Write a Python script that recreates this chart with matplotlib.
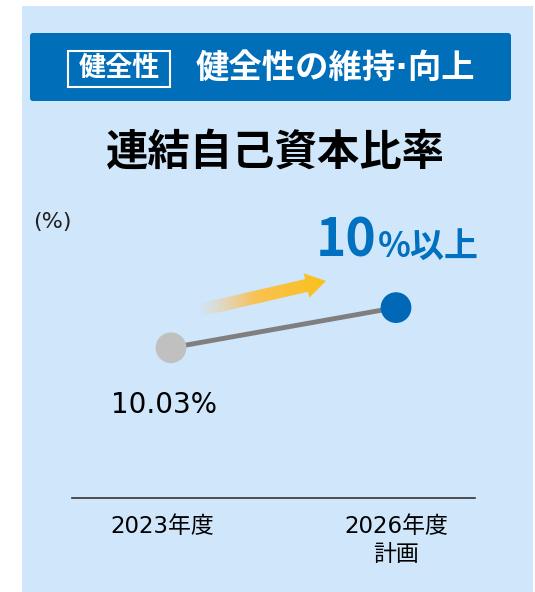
import numpy as np
from matplotlib import pyplot as plt
from matplotlib.patches import Rectangle, FancyBboxPatch, Polygon
from matplotlib.transforms import ScaledTranslation

# DejaVu for latin digits (wide, Meiryo-like), Noto CJK for kanji
plt.rcParams['font.family'] = ['DejaVu Sans', 'Noto Sans CJK JP']
CJK = ['Noto Sans CJK JP', 'DejaVu Sans']

# Data
categories = ["2023年度", "2026年度\n計画"]
ratio_values = [10.03, 11.0]      # 2026 plan is a target ("10%以上"), drawn above 2023
point_colors = ["#C0C0C0", "#0068B7"]
value_label = "10.03%"

W, H = 535, 592
fig = plt.figure(figsize=(W / 100, H / 100), dpi=100)

# Decoration layer in pixel coordinates (y down)
bg = fig.add_axes([0, 0, 1, 1])
bg.set_xlim(0, W)
bg.set_ylim(H, 0)
bg.axis('off')

bg.add_patch(Rectangle((22, 6), 511, 586, facecolor="#D0E6FA", edgecolor="none"))
bg.add_patch(FancyBboxPatch((30, 33), 481, 68, boxstyle="round,pad=0,rounding_size=3",
                            facecolor="#006EB9", edgecolor="none"))
bg.add_patch(Rectangle((68, 51), 102, 36, facecolor="none", edgecolor="white", linewidth=1.5))
bg.text(119, 69, "健全性", color="white", fontsize=19.5, fontweight="bold",
        ha="center", va="center")
bg.text(335, 68, "健全性の維持·向上", color="white", fontsize=24, fontweight="bold",
        ha="center", va="center")

bg.text(275, 153, "連結自己資本比率", color="black", fontsize=30.5, fontweight="bold",
        ha="center", va="center")

bg.text(33, 222, "(%)", color="#222222", fontsize=16, ha="left", va="center")

bg.text(377, 241, "10", color="#0070C0", fontsize=37, fontweight="bold",
        ha="right", va="center", family=CJK)
bg.text(378, 246, "%以上", color="#0070C0", fontsize=24.5, fontweight="bold",
        ha="left", va="center", family=CJK)

# Gradient arrow
tail = np.array([200.0, 310.0])
tip = np.array([326.0, 281.0])
d = tip - tail
L = np.hypot(*d)
u = d / L
n = np.array([u[1], -u[0]])
hw, hh, hl = 6.5, 12.5, 20.0
base = tip - u * hl
pts = [tail + n * hw, base + n * hw, base + n * hh, tip,
       base - n * hh, base - n * hw, tail - n * hw]
arrow = Polygon(pts, closed=True, facecolor="none", edgecolor="none")
bg.add_patch(arrow)
xs = np.array([p[0] for p in pts])
ys = np.array([p[1] for p in pts])
x0, x1 = xs.min(), xs.max()
grad = np.zeros((2, 256, 4))
t = np.linspace(0, 1, 256)
grad[..., 0] = 0.98
grad[..., 1] = 0.76
grad[..., 2] = 0.10 + 0.4 * (1 - t)
grad[..., 3] = np.clip(t / 0.45, 0, 1)
im = bg.imshow(grad, extent=(x0, x1, ys.max(), ys.min()), aspect="auto",
               interpolation="bilinear", zorder=3)
im.set_clip_path(arrow)
bg.set_xlim(0, W)
bg.set_ylim(H, 0)

# Chart layer
ax = fig.add_axes([72 / W, (H - 498) / H, 403 / W, 298 / H])
ax.patch.set_alpha(0)
x = np.arange(len(categories))
ax.plot(x, ratio_values, color="#7F7F7F", linewidth=3.5, zorder=2)
ax.scatter(x, ratio_values, s=490, c=point_colors, zorder=3, linewidths=0)
ax.set_xlim(-0.44, 1.351)
ax.set_ylim(6.4, 13.6)
ax.annotate(value_label, (x[0], ratio_values[0]), xytext=(-5, -41),
            textcoords="offset points", ha="center", va="center", fontsize=20)

for s in ["top", "right", "left"]:
    ax.spines[s].set_visible(False)
ax.spines["bottom"].set_color("#333333")
ax.spines["bottom"].set_linewidth(1.2)
ax.set_yticks([])
ax.set_xticks(x)
ax.set_xticklabels(categories, fontsize=16.5, linespacing=1.3)
ax.tick_params(axis="x", length=0, pad=12)
# first label sits slightly left of its point in the reference
lbl = ax.get_xticklabels()[0]
lbl.set_transform(lbl.get_transform() + ScaledTranslation(-6 / 72, 0, fig.dpi_scale_trans))

fig.savefig("out.png", dpi=100)
